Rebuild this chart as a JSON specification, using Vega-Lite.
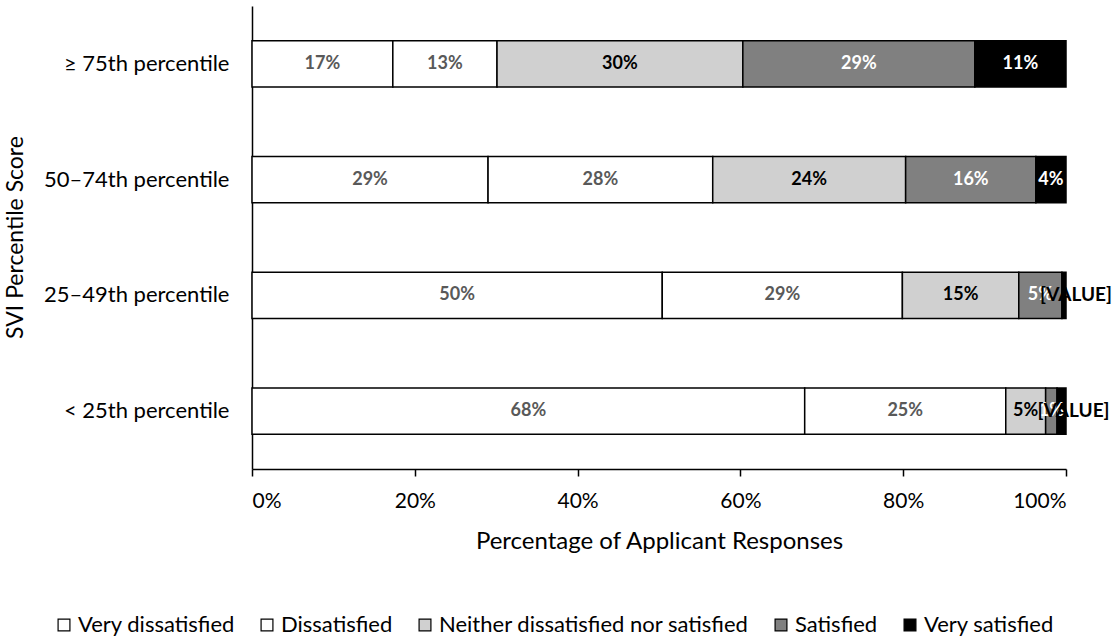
{
  "$schema": "https://vega.github.io/schema/vega-lite/v6.json",
  "width": 814,
  "height": 463,
  "autosize": {"type": "none"},
  "padding": {"left": 252, "top": 6, "right": 54, "bottom": 172},
  "background": "white",
  "config": {
    "view": {"stroke": null},
    "font": "Lato",
    "text": {"font": "Lato"}
  },
  "data": {
    "values": [
      {"category": "≥ 75th percentile", "response": "Very dissatisfied", "order": 1, "value": 17.3, "label": "17%"},
      {"category": "≥ 75th percentile", "response": "Dissatisfied", "order": 2, "value": 12.8, "label": "13%"},
      {"category": "≥ 75th percentile", "response": "Neither dissatisfied nor satisfied", "order": 3, "value": 30.2, "label": "30%"},
      {"category": "≥ 75th percentile", "response": "Satisfied", "order": 4, "value": 28.5, "label": "29%"},
      {"category": "≥ 75th percentile", "response": "Very satisfied", "order": 5, "value": 11.2, "label": "11%"},
      {"category": "50–74th percentile", "response": "Very dissatisfied", "order": 1, "value": 29.0, "label": "29%"},
      {"category": "50–74th percentile", "response": "Dissatisfied", "order": 2, "value": 27.6, "label": "28%"},
      {"category": "50–74th percentile", "response": "Neither dissatisfied nor satisfied", "order": 3, "value": 23.7, "label": "24%"},
      {"category": "50–74th percentile", "response": "Satisfied", "order": 4, "value": 16.0, "label": "16%"},
      {"category": "50–74th percentile", "response": "Very satisfied", "order": 5, "value": 3.7, "label": "4%"},
      {"category": "25–49th percentile", "response": "Very dissatisfied", "order": 1, "value": 50.4, "label": "50%"},
      {"category": "25–49th percentile", "response": "Dissatisfied", "order": 2, "value": 29.5, "label": "29%"},
      {"category": "25–49th percentile", "response": "Neither dissatisfied nor satisfied", "order": 3, "value": 14.3, "label": "15%"},
      {"category": "25–49th percentile", "response": "Satisfied", "order": 4, "value": 5.3, "label": "5%"},
      {"category": "25–49th percentile", "response": "Very satisfied", "order": 5, "value": 0.5, "label": "[VALUE]"},
      {"category": "< 25th percentile", "response": "Very dissatisfied", "order": 1, "value": 67.9, "label": "68%"},
      {"category": "< 25th percentile", "response": "Dissatisfied", "order": 2, "value": 24.7, "label": "25%"},
      {"category": "< 25th percentile", "response": "Neither dissatisfied nor satisfied", "order": 3, "value": 4.9, "label": "5%"},
      {"category": "< 25th percentile", "response": "Satisfied", "order": 4, "value": 1.4, "label": "1%"},
      {"category": "< 25th percentile", "response": "Very satisfied", "order": 5, "value": 1.1, "label": "[VALUE]"}
    ]
  },
  "transform": [
    {"stack": "value", "groupby": ["category"], "sort": [{"field": "order", "order": "ascending"}], "as": ["x0", "x1"]}
  ],
  "encoding": {
    "y": {
      "field": "category",
      "type": "nominal",
      "sort": ["≥ 75th percentile", "50–74th percentile", "25–49th percentile", "< 25th percentile"],
      "scale": {"paddingInner": 0.6, "paddingOuter": 0.3},
      "axis": {
        "title": "SVI Percentile Score",
        "domain": true,
        "domainColor": "#000000",
        "domainWidth": 1.5,
        "ticks": false,
        "labelPadding": 23,
        "labelFontSize": 22,
        "labelLimit": 400,
        "labelColor": "#000000",
        "labelFont": "Lato",
        "titleFont": "Lato",
        "titleFontSize": 23,
        "titleFontWeight": "normal",
        "titleColor": "#000000",
        "titleX": -237,
        "titleY": 231,
        "titleAngle": -90,
        "titleAlign": "center",
        "titleBaseline": "middle"
      }
    }
  },
  "layer": [
    {
      "mark": {"type": "bar", "stroke": "#000000", "strokeWidth": 1.5},
      "encoding": {
        "x": {
          "field": "x0",
          "type": "quantitative",
          "scale": {"domain": [0, 100], "nice": false},
          "axis": {
            "title": "Percentage of Applicant Responses",
            "values": [0, 20, 40, 60, 80, 100],
            "labelExpr": "datum.value + '%'",
            "grid": false,
            "domainColor": "#000000",
            "domainWidth": 1.5,
            "tickColor": "#000000",
            "tickWidth": 1.5,
            "tickSize": 7,
            "labelPadding": 14,
            "labelFontSize": 21,
            "labelColor": "#000000",
            "labelFont": "Lato",
            "titleFont": "Lato",
            "titleFontSize": 24,
            "titleFontWeight": "normal",
            "titleColor": "#000000",
            "titleY": 72,
            "titleBaseline": "middle"
          }
        },
        "x2": {"field": "x1"},
        "color": {
          "field": "response",
          "type": "nominal",
          "scale": {
            "domain": ["Very dissatisfied", "Dissatisfied", "Neither dissatisfied nor satisfied", "Satisfied", "Very satisfied"],
            "range": ["#ffffff", "#ffffff", "#d0d0d0", "#808080", "#000000"]
          },
          "legend": {
            "title": null,
            "orient": "none",
            "direction": "horizontal",
            "legendX": -199,
            "legendY": 608,
            "padding": 0,
            "symbolType": "square",
            "symbolSize": 140,
            "symbolStrokeColor": "#000000",
            "symbolStrokeWidth": 1.2,
            "symbolOpacity": 1,
            "labelFontSize": 22,
            "labelFont": "Lato",
            "labelColor": "#000000",
            "labelOffset": 3,
            "columnPadding": 21,
            "labelLimit": 500
          }
        }
      }
    },
    {
      "transform": [
        {"filter": "datum.label !== '[VALUE]'"},
        {"fold": ["x0", "x1"], "as": ["edge", "pos"]}
      ],
      "mark": {"type": "text", "fontWeight": "bold", "fontSize": 18, "font": "Lato", "baseline": "middle", "align": "center"},
      "encoding": {
        "x": {"aggregate": "mean", "field": "pos", "type": "quantitative"},
        "text": {"field": "label"},
        "color": {
          "field": "response",
          "type": "nominal",
          "scale": {
            "domain": ["Very dissatisfied", "Dissatisfied", "Neither dissatisfied nor satisfied", "Satisfied", "Very satisfied"],
            "range": ["#595959", "#595959", "#000000", "#ffffff", "#ffffff"]
          },
          "legend": null
        }
      }
    },
    {
      "transform": [
        {"filter": "datum.label === '[VALUE]'"},
        {"fold": ["x0", "x1"], "as": ["edge", "pos"]}
      ],
      "mark": {"type": "text", "fontWeight": "bold", "fontSize": 19, "font": "Lato", "baseline": "middle", "align": "center", "dx": 12, "color": "#000000"},
      "encoding": {
        "x": {"aggregate": "mean", "field": "pos", "type": "quantitative"},
        "text": {"field": "label"},
        "detail": {"field": "response"}
      }
    }
  ],
  "resolve": {"scale": {"color": "independent"}}
}
